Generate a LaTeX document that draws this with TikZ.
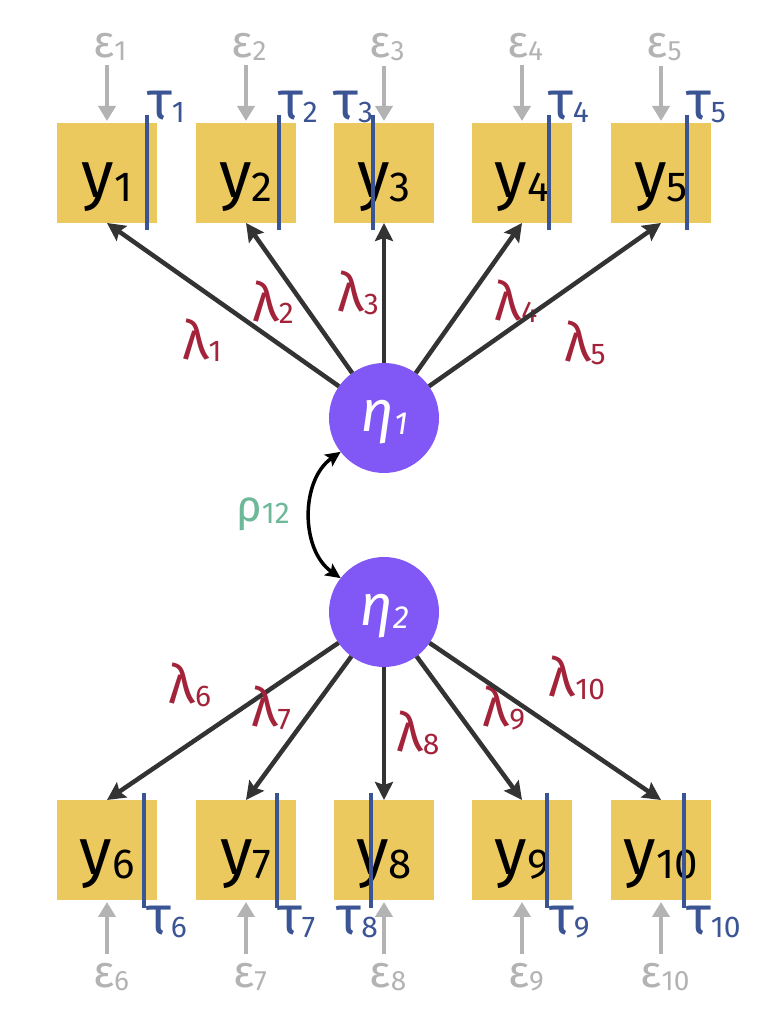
\documentclass[tikz,border=0pt]{standalone}
\usepackage{fontspec}
\setmainfont{Fira Sans}
\usetikzlibrary{arrows.meta}
\definecolor{SemIndicator}{HTML}{ECC95E}
\definecolor{SemFactor}{HTML}{8157F5}
\definecolor{SemThreshold}{HTML}{3B5494}
\definecolor{SemError}{HTML}{B3B3B3}
\definecolor{SemLoading}{HTML}{A3243A}
\definecolor{SemCorr}{HTML}{6DB898}
\definecolor{SemInk}{HTML}{333333}
\newcommand\semsym[4]{{\fontsize{#3}{#3}\selectfont #1}{\fontsize{#4}{#4}\selectfont\raisebox{-0.12\height}{#2}}}
\tikzset{
    sem/diagram/.style={
        x=1pt, y=1pt,
        every node/.style={inner sep=0pt, outer sep=0pt}
    },
    sem/indicator/.style={
        rectangle, fill=SemIndicator, text=black,
        minimum width=100pt, minimum height=100pt,
        text height=50pt, text depth=0pt
    },
    sem/factor/.style={
        circle, fill=SemFactor, text=white, font=\itshape,
        minimum size=110pt, text height=30pt, text depth=2pt
    },
    sem/loading/.style={
        draw=SemInk, line width=4.5pt,
        -{Stealth[length=18pt, width=18pt, inset=3pt]}
    },
    sem/error/.style={
        draw=SemError, line width=4.3pt,
        -{Triangle[length=15pt, width=17pt]}
    },
    sem/threshold/.style={draw=SemThreshold, line width=3.2pt},
    sem/corr/.style={
        draw=black, line width=3.5pt,
        {Stealth[length=15pt, width=14pt, inset=3pt]}-{Stealth[length=15pt, width=14pt, inset=3pt]}
    },
    sem/lambda/.style={text=SemLoading},
    sem/tau/.style={text=SemThreshold},
    sem/eps/.style={text=SemError}
}

\begin{document}
\begin{tikzpicture}[sem/diagram]
    \useasboundingbox (0,0) rectangle (768,1024);
    \node[sem/factor] (eta1) at (384,606) {\semsym{η}{1}{58}{32}};
    \node[sem/factor] (eta2) at (384,412) {\semsym{η}{2}{58}{32}};
    % upper indicators: index/x/threshold/tau x/tau anchor/lambda x/lambda y
    \foreach \i/\x/\t/\tx/\ta/\lx/\ly in {1/107/40/147/base west/202/684,
        2/246/33/278/base west/273/722, 3/384/-11/373/base east/358/731,
        4/522/27/548/base west/516/723, 5/661/26/686/base west/585/681}{
        \node[sem/indicator] (y\i) at (\x,851) {\semsym{y}{\i}{66}{42}};
        \draw[sem/threshold] (\x+\t,909) -- (\x+\t,794);
        \node[sem/tau, anchor=\ta] (t\i) at (\tx,904) {\semsym{τ}{\i}{54}{30}};
        \node[sem/eps, anchor=base] (e\i) at (\x+3,966) {\semsym{ε}{\i}{45}{28}};
        \draw[sem/error, shorten <=5pt, shorten >=2pt] (e\i.south -| y\i.north) -- (y\i.north);
        \draw[sem/loading] (eta1) -- (y\i.south);
        \node[sem/lambda] (l\i) at (\lx,\ly) {\semsym{λ}{\i}{54}{30}};
    }
    % lower indicators
    \foreach \i/\x/\t/\tx/\ta/\lx/\ly in {6/107/37/146/base west/190/339,
        7/246/31/277/base west/271/316, 8/384/-13/378/base east/418/291,
        9/522/25/549/base west/504/316, 10/661/23/686/base west/577/346}{
        \node[sem/indicator] (y\i) at (\x,174) {\semsym{y}{\i}{66}{42}};
        \draw[sem/threshold] (\x+\t,231) -- (\x+\t,116);
        \node[sem/tau, anchor=\ta] (t\i) at (\tx,89) {\semsym{τ}{\i}{54}{30}};
        \node[sem/eps, anchor=base] (e\i) at (\x+4,36) {\semsym{ε}{\i}{45}{28}};
        \draw[sem/error, shorten <=10pt, shorten >=2pt] (e\i.north -| y\i.south) -- (y\i.south);
        \draw[sem/loading] (eta2) -- (y\i.north);
        \node[sem/lambda] (l\i) at (\lx,\ly) {\semsym{λ}{\i}{54}{30}};
    }
    \draw[sem/corr] (eta1.218) to[bend right=55] (eta2.142);
    \node[text=SemCorr] (rho) at (263,510) {\semsym{ρ}{12}{44}{30}};
\end{tikzpicture}
\end{document}
